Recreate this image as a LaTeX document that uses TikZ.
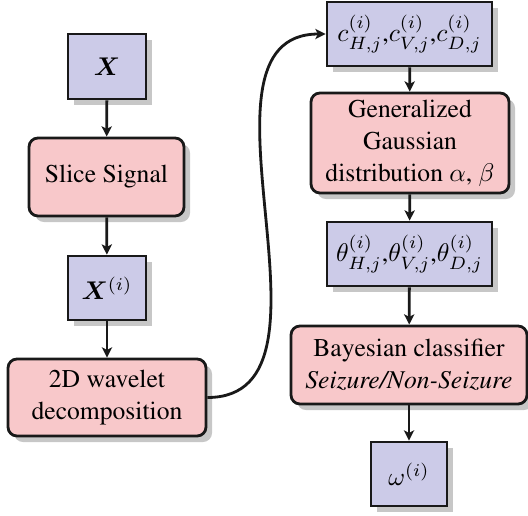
\documentclass[tikz,border=0pt]{standalone}
\usepackage[T1]{fontenc}
\usepackage{times}
\usepackage{bm}
\usetikzlibrary{shadows,arrows.meta}
\newcommand\pxu{0.390625pt}
\definecolor{boxblue}{RGB}{204,203,232}
\definecolor{boxpink}{RGB}{248,200,202}
\tikzset{
  base/.style={draw=black!90, line width=1.1pt, align=center, inner sep=0pt,
    font=\fontsize{10}{12.5}\selectfont,
    drop shadow={shadow xshift=6*\pxu, shadow yshift=-6*\pxu, fill=black!22, opacity=1}},
  databox/.style={base, fill=boxblue},
  procbox/.style={base, fill=boxpink, rounded corners=3.5pt},
  conn/.style={line width=1.1pt, draw=black!90, -{Stealth[length=4pt,width=4pt,inset=1pt]}}
}
\begin{document}
\begin{tikzpicture}[x=\pxu, y=-\pxu]
\useasboundingbox (0,0) rectangle (528,516);
% left column
\node[databox, minimum width=78*\pxu, minimum height=65*\pxu] (x) at (107,66.5) {$\bm{X}$};
\node[procbox, minimum width=155*\pxu, minimum height=78*\pxu] (slice) at (106.5,177) {Slice Signal};
\node[databox, minimum width=78*\pxu, minimum height=64*\pxu] (xi) at (107,288) {$\bm{X}^{(i)}$};
\node[procbox, minimum width=198*\pxu, minimum height=77*\pxu] (wav) at (107,397.5) {2D wavelet\\decomposition};
% right column
\node[databox, minimum width=165*\pxu, minimum height=64*\pxu] (c) at (409.5,34) {$c^{(i)}_{H,j}$,$c^{(i)}_{V,j}$,$c^{(i)}_{D,j}$};
\node[procbox, minimum width=198*\pxu, minimum height=100*\pxu] (gg) at (410,143) {Generalized\\Gaussian\\distribution $\alpha$, $\beta$};
\node[databox, minimum width=165*\pxu, minimum height=64*\pxu] (th) at (409.5,254) {$\theta^{(i)}_{H,j}$,$\theta^{(i)}_{V,j}$,$\theta^{(i)}_{D,j}$};
\node[procbox, minimum width=236*\pxu, minimum height=78*\pxu] (bay) at (409,365) {Bayesian classifier\\\textit{Seizure/Non-Seizure}};
\node[databox, minimum width=76*\pxu, minimum height=64*\pxu] (om) at (409,474) {$\omega^{(i)}$};
% connectors
\draw[conn] (x) -- (slice);
\draw[conn] (slice) -- (xi);
\draw[conn] (xi) -- (wav);
\draw[conn] (wav.east) to[out=0,in=180] (c.west);
\draw[conn] (c) -- (gg);
\draw[conn] (gg) -- (th);
\draw[conn] (th) -- (bay);
\draw[conn] (bay) -- (om);
\end{tikzpicture}
\end{document}
